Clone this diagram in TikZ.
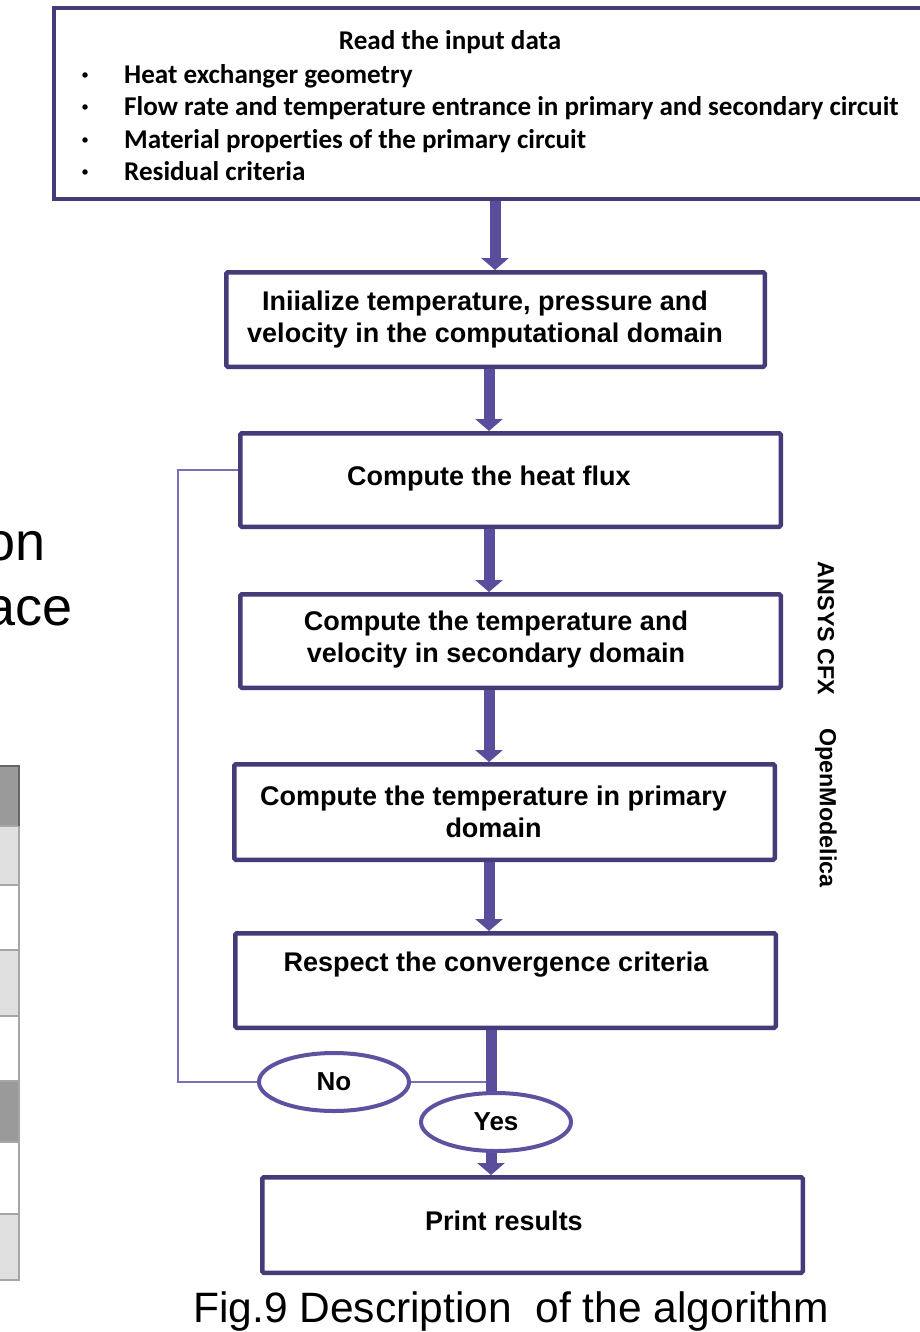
\documentclass[tikz,border=0pt]{standalone}
\usepackage{fontspec}
\setmainfont{Liberation Sans}
\newfontfamily\calfont[Ligatures=NoCommon]{Carlito}
\usetikzlibrary{arrows.meta,shapes.geometric,calc}
\definecolor{boxc}{HTML}{463A78}
\definecolor{arrc}{HTML}{5A4E9C}
\definecolor{thinc}{HTML}{7B70B8}
\definecolor{ellc}{HTML}{5E52A0}
\definecolor{tgray}{HTML}{9A9A9A}
\definecolor{tlight}{HTML}{E0E0E0}
\definecolor{tline}{HTML}{A6A6A6}
\begin{document}
\begin{tikzpicture}[x=1pt,y=-1pt,
  box/.style={draw=boxc, line width=4.5pt, rounded corners=1.5pt, fill=white,
    minimum width=540.5pt, minimum height=94.5pt, inner sep=0pt},
  btext/.style={inner sep=0pt, align=center, font=\fontsize{27}{32}\selectfont\bfseries},
  toptext/.style={inner sep=0pt, anchor=base west, font=\calfont\fontsize{27.1}{32}\selectfont\bfseries},
  topbullet/.style={circle, fill=black, inner sep=0pt, minimum size=5.5pt},
  arr/.style={draw=arrc, line width=11pt, -{Triangle[width=27pt,length=12pt]}},
  thick/.style={draw=arrc, line width=11pt},
  thin/.style={draw=thinc, line width=2.5pt},
  oval/.style={ellipse, draw=ellc, line width=4pt, fill=white, minimum width=150pt,
    minimum height=58pt, inner sep=0pt, font=\fontsize{26}{30}\selectfont\bfseries},
  side/.style={inner sep=0pt, rotate=-90, font=\fontsize{23.3}{28}\selectfont\bfseries},
  cell/.style={draw=tline, line width=2pt},
]
\useasboundingbox (0,0) rectangle (920,1332);
\fill[white] (0,0) rectangle (920,1332);

% stray fragments on the left (cropped slide)
\node[inner sep=0pt, anchor=base east, font=\fontsize{54}{60}\selectfont] (frag1) at (46,560) {on};
\node[inner sep=0pt, anchor=base east, font=\fontsize{54}{60}\selectfont] (frag2) at (73,625) {ace};
\filldraw[cell, fill=tgray] (-5,766) rectangle (19,826);
\filldraw[cell, fill=tlight] (-5,826) rectangle (19,885);
\filldraw[cell, fill=white] (-5,885) rectangle (19,950);
\filldraw[cell, fill=tlight] (-5,950) rectangle (19,1016);
\filldraw[cell, fill=white] (-5,1016) rectangle (19,1081);
\filldraw[cell, fill=tgray] (-5,1081) rectangle (19,1142);
\filldraw[cell, fill=white] (-5,1142) rectangle (19,1214);
\filldraw[cell, fill=tlight] (-5,1214) rectangle (19,1280);
\draw[draw=gray!80!black, line width=2pt] (-5,766) -- (19,766) -- (19,826);

% axis coordinates of the arrows
\coordinate (a1) at (495,0);
\coordinate (a2) at (489,0);
\coordinate (a6) at (491,0);
\coordinate (lp) at (178,470);

% top input box
\node[draw=boxc, line width=4.5pt, fill=white, minimum width=876pt, minimum height=191pt, inner sep=0pt] (top) at (492,103.5) {};
\node[inner sep=0pt, anchor=base, font=\calfont\fontsize{27.1}{32}\selectfont\bfseries] (ttl) at (450,50) {Read the input data};
\node[topbullet] (u1) at (85,75) {};
\node[toptext] (t1) at (124,84) {Heat exchanger geometry};
\node[topbullet] (u2) at (85,107) {};
\node[toptext] (t2) at (124,116) {Flow rate and temperature entrance in primary and secondary circuit};
\node[topbullet] (u3) at (85,140) {};
\node[toptext] (t3) at (124,149) {Material properties of the primary circuit};
\node[topbullet] (u4) at (85,172) {};
\node[toptext] (t4) at (124,181) {Residual criteria};

% process boxes
\node[box, minimum width=538.5pt] (b2) at (495.5,319.5) {};
\node[btext] (b2t) at (485,320) {Iniialize temperature, pressure and\\velocity in the computational domain};
\node[box, minimum height=93.5pt] (b3) at (510.5,480) {};
\node[btext] (b3t) at (489,479) {Compute the heat flux};
\node[box, minimum height=93.5pt] (b4) at (510.5,641) {};
\node[btext] (b4t) at (496,640) {Compute the temperature and\\velocity in secondary domain};
\node[box, minimum height=95.5pt] (b5) at (504.5,812) {};
\node[btext] (b5t) at (493.5,811.5) {Compute the temperature in primary\\domain};
\node[box] (b6) at (505.5,980.5) {};
\node[btext] (b6t) at (496,965) {Respect the convergence criteria};
\node[box, minimum height=95.5pt] (pr) at (532.5,1225) {};
\node[btext] (prt) at (504,1221) {Print results};

% side labels
\node[side] (ansys) at (826,628.5) {ANSYS CFX};
\node[side] (om) at (826,808) {OpenModelica};

% feedback loop
\draw[thin] (a6 |- 0,1082) -- (334,1082) -| (lp) -- (lp -| b3.west);
\draw[thick] (a6 |- b6.south) -- (a6 |- 0,1100);
\node[oval] (no) at (334,1082) {No};
\node[oval] (yes) at (496,1122) {Yes};

% arrows
\draw[arr] (a1 |- top.south) -- (a1 |- b2.north);
\draw[arr] (a2 |- b2.south) -- (a2 |- b3.north);
\draw[arr] (a2 |- b3.south) -- (a2 |- b4.north);
\draw[arr] (a2 |- b4.south) -- (a2 |- b5.north);
\draw[arr] (a2 |- b5.south) -- (a2 |- b6.north);
\draw[arr] (a6 |- yes.south) -- (a6 |- pr.north);

% caption
\node[inner sep=0pt, anchor=base west, font=\fontsize{42.5}{48}\selectfont] (cap) at (193,1322) {Fig.9 Description\ \ of the algorithm};
\end{tikzpicture}
\end{document}
